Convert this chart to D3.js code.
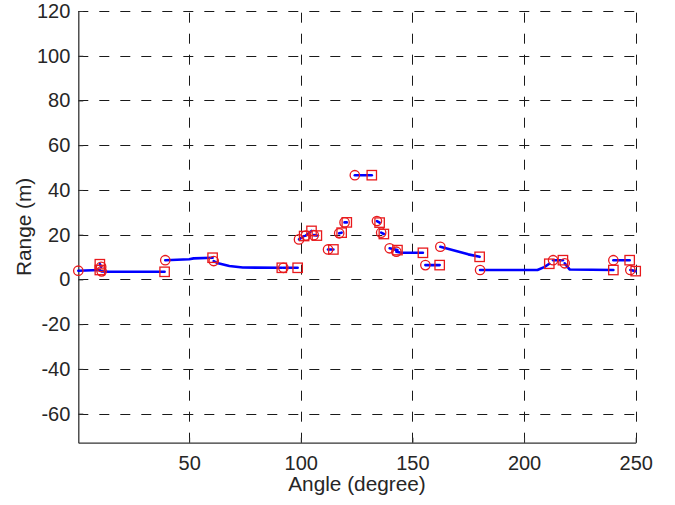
<!DOCTYPE html>
<html>
<head>
<meta charset="utf-8">
<script src="https://cdn.jsdelivr.net/npm/d3@7/dist/d3.min.js"></script>
<style>
  html, body { margin: 0; padding: 0; background: #fff; }
  svg { display: block; font-family: "Liberation Sans", Arial, sans-serif; }
</style>
</head>
<body>
<svg id="chart" width="675" height="505"></svg>
<script>
// Scan segments: each is a run of [angle (degree), range (m)] samples.
// The first sample of a segment is marked with a circle, the last with a square.
const segments = [
  [[0.35, 3.9], [10.0, 4.2]],
  [[10.6, 5.6], [10.0, 6.8]],
  [[10.8, 3.6], [14, 3.4], [39.0, 3.4]],
  [[39.3, 8.6], [50, 9.0], [52, 9.4], [60.5, 9.7]],
  [[61.0, 8.2], [63, 7.2], [68, 6.0], [74, 5.3], [91.5, 5.2]],
  [[92.2, 5.2], [98.6, 5.2]],
  [[99.2, 17.9], [101.5, 19.4]],
  [[102.3, 19.6], [104.8, 21.7]],
  [[105.8, 19.8], [107.2, 19.6]],
  [[112.2, 13.4], [114.6, 13.4]],
  [[117.2, 20.6], [118.3, 20.9]],
  [[119.6, 25.5], [120.6, 25.5]],
  [[124.2, 46.6], [131.8, 46.6]],
  [[134.1, 26.1], [135.3, 25.4]],
  [[136.0, 20.9], [137.2, 20.3]],
  [[139.8, 13.9], [143.3, 13.1]],
  [[142.8, 12.4], [145.0, 11.9], [154.7, 11.9]],
  [[155.8, 6.4], [162.2, 6.4]],
  [[162.5, 14.6], [170, 12.6], [175, 11.2], [180.1, 10.1]],
  [[180.3, 4.2], [206, 4.2], [209, 5.5], [211.3, 7.0]],
  [[213.0, 8.6], [217.4, 8.6]],
  [[218.2, 7.2], [220.5, 4.4], [240.0, 4.2]],
  [[240.0, 8.6], [247.3, 8.6]],
  [[247.6, 4.2], [250.0, 3.7]]
];

const xTicks = [50, 100, 150, 200, 250];
const yTicks = [-60, -40, -20, 0, 20, 40, 60, 80, 100, 120];
const xDomain = [0.35, 250];
const yDomain = [-73, 120];
const xTitle = "Angle (degree)";
const yTitle = "Range (m)";

const svg = d3.select("#chart");
const plotLeft = 78.3, plotRight = 635.7, plotTop = 11, plotBottom = 442.7;

const x = d3.scaleLinear().domain(xDomain).range([plotLeft, plotRight]);
const y = d3.scaleLinear().domain(yDomain).range([plotBottom, plotTop]);

// dashed grid
const grid = svg.append("g")
  .attr("stroke", "#1a1a1a").attr("stroke-width", 1)
  .attr("stroke-dasharray", "10,11").attr("fill", "none");
grid.selectAll("line.h").data(yTicks).join("line")
  .attr("class", "h")
  .attr("x1", plotLeft).attr("x2", plotRight)
  .attr("y1", d => Math.round(y(d)) + 0.5).attr("y2", d => Math.round(y(d)) + 0.5);
grid.selectAll("line.v").data(xTicks).join("line")
  .attr("class", "v")
  .attr("x1", d => Math.round(x(d)) + 0.5).attr("x2", d => Math.round(x(d)) + 0.5)
  .attr("y1", plotBottom).attr("y2", plotTop);

// axes with inward ticks; plain hyphen for negative labels
const fmt = d => String(d);
const xAxis = d3.axisBottom(x).tickValues(xTicks).tickFormat(fmt)
  .tickSizeInner(-5).tickSizeOuter(0).tickPadding(13);
const yAxis = d3.axisLeft(y).tickValues(yTicks).tickFormat(fmt)
  .tickSizeInner(-5).tickSizeOuter(0).tickPadding(8);

const gx = svg.append("g").attr("transform", `translate(0,${plotBottom})`).call(xAxis);
const gy = svg.append("g").attr("transform", `translate(${plotLeft},0)`).call(yAxis);
[gx, gy].forEach(g => {
  g.select(".domain").attr("stroke", "#333").attr("stroke-width", 1.3);
  g.selectAll(".tick line").attr("stroke", "#333");
  g.selectAll(".tick text").attr("font-size", 20).attr("fill", "#262626")
    .attr("font-family", "Liberation Sans, Arial, sans-serif");
});

// axis titles
svg.append("text")
  .attr("x", (plotLeft + plotRight) / 2).attr("y", 491)
  .attr("text-anchor", "middle").attr("font-size", 20.8).attr("fill", "#262626")
  .text(xTitle);
svg.append("text")
  .attr("transform", `translate(31,${(plotTop + plotBottom) / 2}) rotate(-90)`)
  .attr("text-anchor", "middle").attr("font-size", 20.8).attr("fill", "#262626")
  .text(yTitle);

// scan lines
const line = d3.line().x(d => x(d[0])).y(d => y(d[1]));
svg.append("g").selectAll("path").data(segments).join("path")
  .attr("d", line)
  .attr("fill", "none").attr("stroke", "#0000ff").attr("stroke-width", 2.6)
  .attr("stroke-linejoin", "round").attr("stroke-linecap", "round");

// start markers (circles) and end markers (squares)
const marks = svg.append("g").attr("fill", "none").attr("stroke", "#e8191c").attr("stroke-width", 1.3);
marks.selectAll("circle").data(segments).join("circle")
  .attr("cx", d => x(d[0][0])).attr("cy", d => y(d[0][1])).attr("r", 4.7);
const s = 9.4;
marks.selectAll("rect").data(segments).join("rect")
  .attr("x", d => x(d[d.length - 1][0]) - s / 2)
  .attr("y", d => y(d[d.length - 1][1]) - s / 2)
  .attr("width", s).attr("height", s);
</script>
</body>
</html>
